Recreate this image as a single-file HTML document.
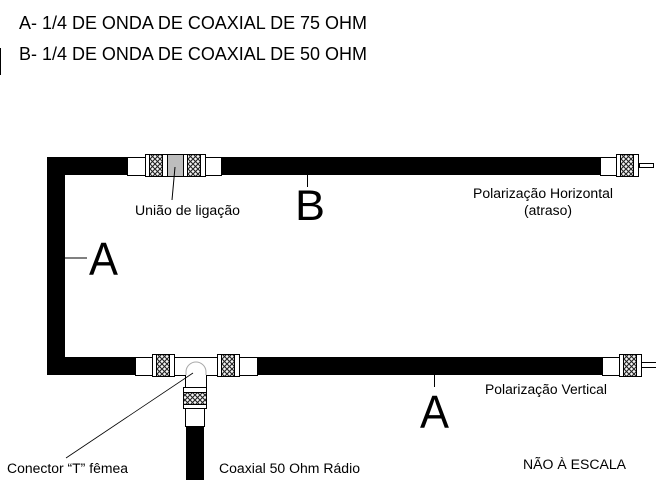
<!DOCTYPE html>
<html><head><meta charset="utf-8">
<style>html,body{margin:0;padding:0;background:#fff}svg{display:block}text{font-family:"Liberation Sans",sans-serif;fill:#000}</style>
</head><body>
<svg width="656" height="480" viewBox="0 0 656 480" xmlns="http://www.w3.org/2000/svg">
<defs>
<pattern id="h" width="5" height="5" patternUnits="userSpaceOnUse">
<rect width="5" height="5" fill="#f4f4f4"/>
<path d="M0 0L5 5M5 0L0 5" stroke="#222" stroke-width="1.100"/>
</pattern>
<g id="cv">
<rect x="0.5" y="0.5" width="22" height="22" fill="#fff" stroke="#000"/>
<rect x="4.5" y="0.5" width="13" height="22" fill="url(#h)" stroke="#000"/>
</g>
</defs>
<rect width="656" height="480" fill="#fff"/>
<rect x="0" y="48" width="1" height="27" fill="#000"/>
<text x="19" y="29" font-size="18.500" textLength="348" lengthAdjust="spacingAndGlyphs">A- 1/4 DE ONDA DE COAXIAL DE 75 OHM</text>
<text x="19" y="60" font-size="18.500" textLength="348" lengthAdjust="spacingAndGlyphs">B- 1/4 DE ONDA DE COAXIAL DE 50 OHM</text>

<!-- cables -->
<rect x="47" y="157" width="18" height="218" fill="#000"/>
<rect x="47" y="157" width="553" height="18" fill="#000"/>
<rect x="47" y="357" width="555" height="18" fill="#000"/>
<rect x="186" y="426" width="18" height="54" fill="#000"/>

<!-- top coupling -->
<rect x="127.500" y="157.500" width="94" height="18" fill="#fff" stroke="#000"/>
<rect x="167" y="155" width="17" height="22" fill="#bdbdbd"/>
<path d="M167 154.500H184M167 176.500H184" stroke="#000"/>
<use href="#cv" x="145" y="154"/>
<use href="#cv" x="183" y="154"/>

<!-- top right connector -->
<rect x="600.500" y="157.500" width="17" height="18" fill="#fff" stroke="#000"/>
<rect x="639.500" y="163.500" width="14" height="4" fill="#fff" stroke="#000"/>
<use href="#cv" x="616" y="154"/>

<!-- bottom right connector -->
<rect x="602.500" y="357.500" width="17" height="18" fill="#fff" stroke="#000"/>
<path d="M642 362.500H656M642 367.500H656" stroke="#000"/>
<use href="#cv" x="619" y="354"/>

<!-- T connector -->
<path d="M135.500 357.500H257.500V375.500H206.500V387H185.500V375.500H135.500Z" fill="#fff" stroke="#000"/>
<path d="M186 375V372C186 366 191 362 196 362C201 362 206 366 206 372V375" fill="#fff" stroke="#aaa"/>
<rect x="186" y="375" width="20" height="12" fill="#fff"/>
<path d="M185.500 375V387M206.500 375V387" stroke="#000"/>
<use href="#cv" x="152" y="354"/>
<use href="#cv" x="217" y="354"/>
<rect x="183.500" y="387.500" width="23" height="21" fill="#fff" stroke="#000"/>
<rect x="183.500" y="392.500" width="23" height="12" fill="url(#h)" stroke="#000"/>
<rect x="185.500" y="408.500" width="19" height="18" fill="#fff" stroke="#000"/>

<!-- leaders -->
<path d="M175 167L172 200" stroke="#000"/>
<path d="M65 258H87" stroke="#000"/>
<path d="M307.500 175V187" stroke="#000"/>
<path d="M434.500 375V387" stroke="#000"/>
<path d="M193 373L66 458" stroke="#000" stroke-width="0.800"/>

<!-- big letters -->
<text x="89" y="275" font-size="46" textLength="29" lengthAdjust="spacingAndGlyphs">A</text>
<text x="295" y="220" font-size="43" textLength="30" lengthAdjust="spacingAndGlyphs">B</text>
<text x="420" y="428" font-size="46" textLength="29" lengthAdjust="spacingAndGlyphs">A</text>

<!-- labels -->
<text x="135" y="215" font-size="13.500" textLength="105" lengthAdjust="spacingAndGlyphs">União de ligação</text>
<text x="473" y="198" font-size="13.500" textLength="140" lengthAdjust="spacingAndGlyphs">Polarização Horizontal</text>
<text x="524" y="215" font-size="13.500" textLength="48" lengthAdjust="spacingAndGlyphs">(atraso)</text>
<text x="485" y="394" font-size="13.500" textLength="122" lengthAdjust="spacingAndGlyphs">Polarização Vertical</text>
<text x="523" y="469" font-size="13.500" textLength="103" lengthAdjust="spacingAndGlyphs">NÃO À ESCALA</text>
<text x="7" y="473" font-size="13.500" textLength="121" lengthAdjust="spacingAndGlyphs">Conector “T” fêmea</text>
<text x="219" y="473" font-size="13.500" textLength="141" lengthAdjust="spacingAndGlyphs">Coaxial 50 Ohm Rádio</text>
</svg>
</body></html>
